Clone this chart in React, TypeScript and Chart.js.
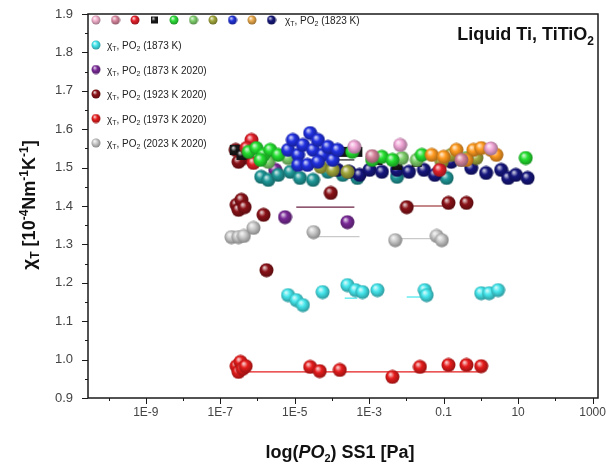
import React, { useEffect, useRef } from 'react';
import { Chart, registerables } from 'chart.js';
Chart.register(...registerables);

const FONT = '"Liberation Sans", Arial, Helvetica, sans-serif';

// ---------- axis ticks ----------
const xDecadeTicks = [1e-10, 1e-9, 1e-8, 1e-7, 1e-6, 1e-5, 1e-4, 1e-3, 1e-2, 0.1, 1, 10, 100, 1000];
const xTickValues = [1e-9, 1e-7, 1e-5, 1e-3, 0.1, 10, 1000];
const xTickLabels = ['1E-9', '1E-7', '1E-5', '1E-3', '0.1', '10', '1000'];
const yTickValues = [0.9, 1.0, 1.1, 1.2, 1.3, 1.4, 1.5, 1.6, 1.7, 1.8, 1.9];

// ---------- series (x: PO2 [Pa], y: chi_T) ----------
const pinkX = [4.0e-4, 6.8e-3, 1.86];
const pinkY = [1.554, 1.559, 1.55];
const mauveX = [1.2e-3, 0.3];
const mauveY = [1.53, 1.52];
const redMainX = [6.9e-7, 5.1e-7, 7.8e-7, 7.8e-2];
const redMainY = [1.572, 1.551, 1.512, 1.494];
const blackX = [2.45e-7, 3.7e-7, 7.8e-5, 1.95e-4, 4.8e-4, 1.66e-3, 5.6e-3, 1.9e-2];
const blackY = [1.546, 1.533, 1.533, 1.541, 1.541, 1.52, 1.507, 1.515];
const greenX = [5.8e-7, 9.3e-7, 1.45e-6, 2.2e-6, 3.6e-6, 1.2e-6, 3.5e-4, 1.2e-3, 2.2e-3, 4.2e-3, 2.6e-2, 16];
const greenY = [1.541, 1.551, 1.533, 1.546, 1.533, 1.52, 1.541, 1.52, 1.528, 1.52, 1.533, 1.525];
const lightGreenX = [1.95e-6, 6.6e-6, 7.6e-3, 1.9e-2, 0.41];
const lightGreenY = [1.515, 1.525, 1.525, 1.52, 1.525];
const oliveX = [5.0e-5, 1.05e-4, 2.6e-4, 8.9e-2, 0.16, 0.3, 0.76];
const oliveY = [1.502, 1.494, 1.489, 1.515, 1.533, 1.52, 1.525];
const blueX = [6.6e-6, 8.9e-6, 1.23e-5, 1.66e-5, 2.6e-5, 3.1e-5, 4.2e-5, 5.6e-5, 7.8e-5, 1.05e-4, 1.41e-4, 1.23e-5, 2.2e-5, 4.2e-5];
const blueY = [1.546, 1.572, 1.533, 1.559, 1.59, 1.546, 1.572, 1.533, 1.554, 1.52, 1.546, 1.507, 1.507, 1.515];
const orangeX = [4.8e-2, 0.1, 0.22, 0.63, 1.02, 1.86, 2.6, 0.41];
const orangeY = [1.533, 1.528, 1.546, 1.546, 1.551, 1.546, 1.533, 1.52];
const navyX = [1.41e-4, 2.95e-4, 5.5e-4, 1.02e-3, 2.2e-3, 5.6e-3, 1.17e-2, 2.95e-2, 5.8e-2, 0.16, 0.55, 1.38, 3.5, 5.4, 8.7, 18];
const navyY = [1.494, 1.489, 1.481, 1.494, 1.489, 1.494, 1.489, 1.494, 1.481, 1.515, 1.499, 1.486, 1.494, 1.473, 1.481, 1.473];
const tealX = [1.26e-6, 1.95e-6, 3.6e-6, 7.6e-6, 1.38e-5, 3.1e-5, 7.8e-5, 1.95e-4, 4.8e-4, 5.6e-3, 0.12];
const tealY = [1.476, 1.468, 1.481, 1.489, 1.473, 1.468, 1.489, 1.481, 1.473, 1.476, 1.473];
const cyanX = [6.6e-6, 1.1e-5, 1.66e-5, 5.6e-5, 2.6e-4, 4.3e-4, 6.6e-4, 1.66e-3, 3.1e-2, 3.5e-2, 1.02, 1.66, 2.9];
const cyanY = [1.168, 1.155, 1.142, 1.176, 1.194, 1.181, 1.176, 1.181, 1.181, 1.168, 1.173, 1.173, 1.181];
const purpleX = [3.0e-6, 5.5e-6, 2.6e-4];
const purpleY = [1.494, 1.371, 1.358];
const darkRedX = [2.75e-7, 3.1e-7, 3.7e-7, 4.5e-7, 1.45e-6, 1.74e-6, 9.3e-5, 1.02e-2, 0.135, 0.41, 2.6e-7, 4.3e-7, 3.1e-7];
const darkRedY = [1.403, 1.39, 1.416, 1.397, 1.377, 1.233, 1.434, 1.397, 1.408, 1.408, 1.546, 1.525, 1.515];
const grayX = [2.0e-7, 3.1e-7, 4.3e-7, 7.8e-7, 3.2e-5, 5.0e-3, 6.5e-2, 8.9e-2];
const grayY = [1.319, 1.319, 1.322, 1.343, 1.332, 1.311, 1.322, 1.311];
const redLowX = [2.75e-7, 3.1e-7, 3.5e-7, 4.0e-7, 4.8e-7, 2.6e-5, 4.7e-5, 1.62e-4, 4.2e-3, 2.3e-2, 0.135, 0.41, 1.02];
const redLowY = [0.983, 0.968, 0.994, 0.976, 0.983, 0.981, 0.97, 0.973, 0.955, 0.981, 0.986, 0.986, 0.983];

// short connecting / mean segments
const redLineX = [3.1e-7, 1.02];
const redLineY = [0.968, 0.968];
const darkRedLineX = [1.02e-2, 0.135];
const darkRedLineY = [1.4, 1.4];
const purpleLineX = [1.1e-5, 4.0e-4];
const purpleLineY = [1.397, 1.397];
const grayLine1X = [3.4e-5, 5.5e-4];
const grayLine1Y = [1.32, 1.32];
const grayLine2X = [5.0e-3, 6.5e-2];
const grayLine2Y = [1.315, 1.315];
const cyanLine1X = [2.2e-4, 4.8e-4];
const cyanLine1Y = [1.16, 1.16];
const cyanLine2X = [1.02e-2, 3.5e-2];
const cyanLine2Y = [1.163, 1.163];
const blackLineX = [7.8e-5, 4.0e-4];
const blackLineY = [1.52, 1.52];

// legend
const legendRow1Colors = ['#f2b0cc', '#d8869e', '#e3202a', '#1a1a1a', '#2edc3a', '#7fd06c', '#a2a83c', '#2233d8', '#e8a84a', '#16187a'];
const legendSuffix = ['(1823 K)', '(1873 K)', '(1873 K 2020)', '(1923 K 2020)', '(1973 K 2020)', '(2023 K 2020)'];
const legendRowColors = ['#44e6ec', '#7a2a98', '#8a1218', '#e61c1c', '#c9c9c9'];

function hexToRgb(h: string) {
  const n = parseInt(h.slice(1), 16);
  return [(n >> 16) & 255, (n >> 8) & 255, n & 255];
}
function mix(a: string, b: string, t: number) {
  const A = hexToRgb(a), B = hexToRgb(b);
  const c = A.map((v, i) => Math.round(v + (B[i] - v) * t));
  return `rgb(${c[0]},${c[1]},${c[2]})`;
}
function sphere(color: string, size: number, square = false) {
  const c = document.createElement('canvas');
  c.width = size; c.height = size;
  const ctx = c.getContext('2d')!;
  const g = ctx.createRadialGradient(size * 0.36, size * 0.32, size * 0.04, size * 0.5, size * 0.5, size * 0.58);
  g.addColorStop(0, mix(color, '#ffffff', 0.75));
  g.addColorStop(0.35, color);
  g.addColorStop(1, mix(color, '#000000', 0.45));
  ctx.fillStyle = g;
  ctx.beginPath();
  if (square) ctx.rect(1, 1, size - 2, size - 2);
  else ctx.arc(size / 2, size / 2, size / 2 - 0.5, 0, Math.PI * 2);
  ctx.fill();
  return c;
}

type Seg = { t: string; font: string; dy?: number };
function drawRich(ctx: CanvasRenderingContext2D, segs: Seg[], x: number, y: number, align: 'left' | 'center' | 'right') {
  let w = 0;
  segs.forEach(s => { ctx.font = s.font; w += ctx.measureText(s.t).width; });
  let cx = align === 'left' ? x : align === 'center' ? x - w / 2 : x - w;
  ctx.textAlign = 'left';
  ctx.textBaseline = 'alphabetic';
  segs.forEach(s => {
    ctx.font = s.font;
    ctx.fillText(s.t, cx, y + (s.dy || 0));
    cx += ctx.measureText(s.t).width;
  });
}

export default function App() {
  const ref = useRef<HTMLCanvasElement>(null);
  useEffect(() => {
    const S = 15;
    const pts = (xs: number[], ys: number[]) => xs.map((x, i) => ({ x, y: ys[i] }));
    const sc = (label: string, xs: number[], ys: number[], color: string, square = false) => ({
      type: 'scatter' as const, label, data: pts(xs, ys), pointStyle: sphere(color, square ? 12 : S, square),
      pointRadius: 7, showLine: false, order: 0, borderColor: color, backgroundColor: color,
    });
    const ln = (xs: number[], ys: number[], color: string) => ({
      type: 'scatter' as const, label: '', data: pts(xs, ys), showLine: true, pointRadius: 0,
      borderColor: color, borderWidth: 1.2, order: 10,
    });
    const datasets: any[] = [
      sc('pink', pinkX, pinkY, '#f2a8d8'),
      sc('mauve', mauveX, mauveY, '#d8869e'),
      sc('blue', blueX, blueY, '#2030e0'),
      sc('orange', orangeX, orangeY, '#ff9a20'),
      sc('green', greenX, greenY, '#24e030'),
      sc('red main', redMainX, redMainY, '#e3202a'),
      sc('light green', lightGreenX, lightGreenY, '#7fd06c'),
      sc('olive', oliveX, oliveY, '#a2a83c'),
      sc('black', blackX, blackY, '#1a1a1a', true),
      sc('navy', navyX, navyY, '#16167e'),
      sc('teal', tealX, tealY, '#1f9898'),
      sc('dark red', darkRedX, darkRedY, '#8a1218'),
      sc('purple', purpleX, purpleY, '#7a2a98'),
      sc('cyan', cyanX, cyanY, '#44e6ec'),
      sc('gray', grayX, grayY, '#c9c9c9'),
      sc('red low', redLowX, redLowY, '#e61c1c'),
      ln(redLineX, redLineY, '#e61c1c'),
      ln(darkRedLineX, darkRedLineY, '#8a1218'),
      ln(purpleLineX, purpleLineY, '#6a2040'),
      ln(grayLine1X, grayLine1Y, '#c9c9c9'),
      ln(grayLine2X, grayLine2Y, '#c9c9c9'),
      ln(cyanLine1X, cyanLine1Y, '#44e6ec'),
      ln(cyanLine2X, cyanLine2Y, '#44e6ec'),
      ln(blackLineX, blackLineY, '#1a1a1a'),
    ];

    const legendImgs = legendRow1Colors.map((c, i) => sphere(c, i === 3 ? 9 : 10, i === 3));
    const rowImgs = legendRowColors.map(c => sphere(c, 10));

    const decor = {
      id: 'decor',
      afterDraw(chart: any) {
        const ctx: CanvasRenderingContext2D = chart.ctx;
        const { left, right, top, bottom } = chart.chartArea;
        const xs = chart.scales.x, ys = chart.scales.y;
        ctx.save();
        // frame
        ctx.strokeStyle = '#1a1a1a';
        ctx.lineWidth = 1.5;
        ctx.strokeRect(left, top, right - left, bottom - top);
        // ticks
        ctx.lineWidth = 1;
        ctx.beginPath();
        yTickValues.forEach((v) => {
          const y = Math.round(ys.getPixelForValue(v)) + 0.5;
          ctx.moveTo(left - 6, y); ctx.lineTo(left, y);
          const ym = Math.round(ys.getPixelForValue(v + 0.05)) + 0.5;
          if (v < 1.85) { ctx.moveTo(left - 3, ym); ctx.lineTo(left, ym); }
        });
        xDecadeTicks.forEach((v) => {
          const x = Math.round(xs.getPixelForValue(v)) + 0.5;
          const major = xTickValues.some(t => Math.abs(Math.log10(t) - Math.log10(v)) < 1e-6);
          ctx.moveTo(x, bottom); ctx.lineTo(x, bottom + (major ? 6 : 3));
        });
        ctx.stroke();

        ctx.fillStyle = '#111';
        // title in plot
        drawRich(ctx, [
          { t: 'Liquid Ti, TiTiO', font: `bold 18px ${FONT}` },
          { t: '2', font: `bold 12px ${FONT}`, dy: 5 },
        ], 594, 40, 'right');

        // x title
        drawRich(ctx, [
          { t: 'log(', font: `bold 18px ${FONT}` },
          { t: 'PO', font: `italic bold 18px ${FONT}` },
          { t: '2', font: `bold 11px ${FONT}`, dy: 4 },
          { t: ') SS1 [Pa]', font: `bold 18px ${FONT}` },
        ], 340, 458, 'center');

        // y title
        ctx.save();
        ctx.translate(35, 205);
        ctx.rotate(-Math.PI / 2);
        drawRich(ctx, [
          { t: 'χ', font: `bold 19px ${FONT}` },
          { t: 'T', font: `bold 12px ${FONT}`, dy: 4 },
          { t: ' [10', font: `bold 18px ${FONT}` },
          { t: '-4', font: `bold 12px ${FONT}`, dy: -7 },
          { t: 'Nm', font: `bold 18px ${FONT}` },
          { t: '-1', font: `bold 12px ${FONT}`, dy: -7 },
          { t: 'K', font: `bold 18px ${FONT}` },
          { t: '-1', font: `bold 12px ${FONT}`, dy: -7 },
          { t: ']', font: `bold 18px ${FONT}` },
        ], 0, 0, 'center');
        ctx.restore();

        // legend
        const labelSegs = (suffix: string): Seg[] => [
          { t: 'χ', font: `10px ${FONT}` },
          { t: 'T', font: `7px ${FONT}`, dy: 2 },
          { t: ', PO', font: `10px ${FONT}` },
          { t: '2', font: `7px ${FONT}`, dy: 2 },
          { t: ' ' + suffix, font: `10px ${FONT}` },
        ];
        ctx.fillStyle = '#222';
        const row1Y = 20;
        legendImgs.forEach((img, i) => {
          const cx = 96 + i * 19.5;
          ctx.drawImage(img, cx - img.width / 2, row1Y - img.height / 2);
        });
        drawRich(ctx, labelSegs(legendSuffix[0]), 285, row1Y + 4, 'left');
        rowImgs.forEach((img, i) => {
          const cy = 45 + i * 24.5;
          ctx.drawImage(img, 96 - img.width / 2, cy - img.height / 2);
          drawRich(ctx, labelSegs(legendSuffix[i + 1]), 107, cy + 4, 'left');
        });
        ctx.restore();
      },
    };

    const chart = new Chart(ref.current!, {
      type: 'scatter',
      data: { datasets },
      options: {
        animation: false,
        responsive: false,
        maintainAspectRatio: false,
        layout: { padding: { top: 14, right: 3, left: 0, bottom: 0 } },
        plugins: { legend: { display: false }, tooltip: { enabled: false } },
        scales: {
          x: {
            type: 'logarithmic',
            min: 2.8e-11,
            max: 1.4e3,
            afterBuildTicks: (s: any) => { s.ticks = xDecadeTicks.map(v => ({ value: v })); },
            afterFit: (s: any) => { s.height = 74; s.paddingLeft = 0; s.paddingRight = 0; },
            grid: { display: false, drawTicks: false },
            border: { display: false },
            ticks: {
              autoSkip: false, maxRotation: 0, minRotation: 0, padding: 7,
              color: '#444', font: { family: FONT, size: 12 },
              callback: (v: any) => {
                const i = xTickValues.findIndex(t => Math.abs(Math.log10(t) - Math.log10(Number(v))) < 1e-6);
                return i >= 0 ? xTickLabels[i] : '';
              },
            },
          },
          y: {
            min: 0.9,
            max: 1.9,
            afterBuildTicks: (s: any) => { s.ticks = yTickValues.map(v => ({ value: v })); },
            afterFit: (s: any) => { s.width = 88; s.paddingTop = 0; s.paddingBottom = 0; },
            grid: { display: false, drawTicks: false },
            border: { display: false },
            ticks: {
              padding: 15, color: '#444', font: { family: FONT, size: 13 },
              callback: (v: any) => Number(v).toFixed(1),
            },
          },
        },
      },
      plugins: [decor],
    } as any);
    return () => chart.destroy();
  }, []);
  return (
    <div style={{ position: 'absolute', left: 0, top: 0, width: 606, height: 472, background: '#fff' }}>
      <canvas ref={ref} width={606} height={472} style={{ display: 'block', width: 606, height: 472 }} />
    </div>
  );
}
